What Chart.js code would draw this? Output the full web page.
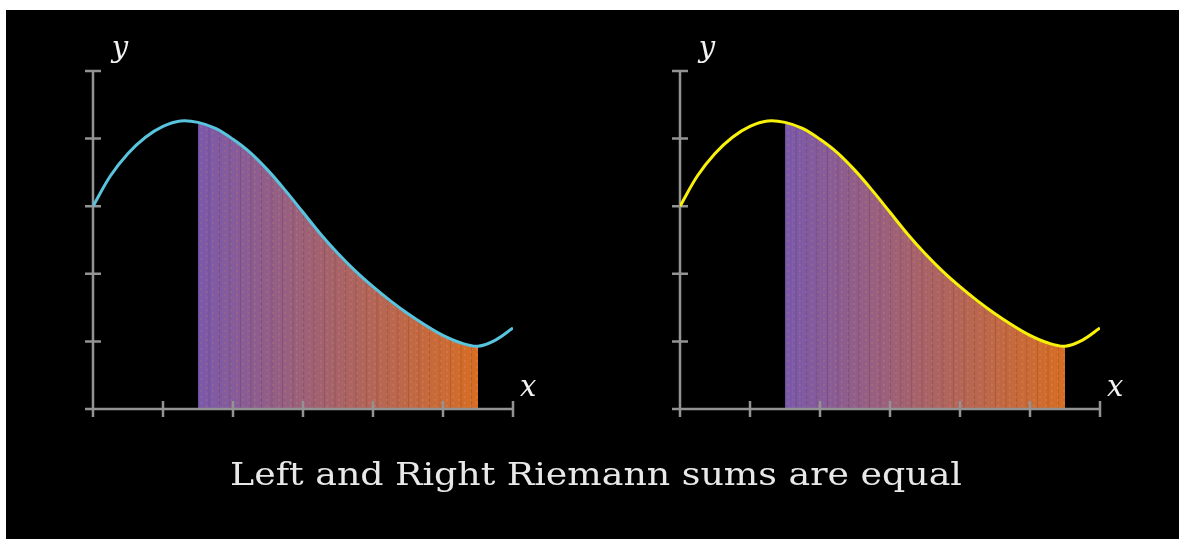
<!DOCTYPE html>
<html>
<head>
<meta charset="utf-8">
<script src="https://cdn.jsdelivr.net/npm/chart.js@4.4.1/dist/chart.umd.min.js"></script>
<style>
  html, body { margin: 0; padding: 0; background: #fff; width: 1179px; height: 539px; overflow: hidden; }
  #stage { position: absolute; left: 6px; top: 10px; right: 0; bottom: 0; background: #000; }
  canvas { position: absolute; top: 0; }
  #leftPlot { left: 0; }
  #rightPlot { left: 590px; }
  #caption {
    position: absolute; left: 0; top: 0; white-space: nowrap;
    color: #e8e8e8; font-family: 'DejaVu Serif', serif; font-size: 31px; line-height: 31px;
    transform-origin: 0 0;
  }
</style>
</head>
<body>
<div id="stage"></div>
<canvas id="leftPlot" width="590" height="539" style="width:590px;height:539px"></canvas>
<canvas id="rightPlot" width="589" height="539" style="width:589px;height:539px"></canvas>
<div id="caption"></div>
<script>
// Function sampled along x
const xValues = [0, 0.25, 0.5, 0.75, 1, 1.25, 1.5, 1.75, 2, 2.25, 2.5, 2.75, 3,
                 3.25, 3.5, 3.75, 4, 4.25, 4.5, 4.75, 5, 5.25, 5.5, 5.75, 6];
const yValues = [3.00, 3.45, 3.78, 4.02, 4.18, 4.26, 4.24, 4.15, 3.99, 3.79, 3.53, 3.23, 2.91,
                 2.59, 2.30, 2.04, 1.81, 1.60, 1.41, 1.24, 1.09, 0.98, 0.93, 1.02, 1.20];

// Interval whose area is shaded
const shadeStart = 1.5;
const shadeEnd = 5.5;

// Axis ranges and ticks
const xTicks = [0, 1, 2, 3, 4, 5, 6];
const yTicks = [0, 1, 2, 3, 4, 5];
const xAxisLabel = 'x';
const yAxisLabel = 'y';

const captionText = 'Left and Right Riemann sums are equal';

const curvePoints = xValues.map((x, i) => ({ x, y: yValues[i] }));

const AXIS_COLOR = '#939393';
const SHADE_LEFT = [121, 88, 172];
const SHADE_RIGHT = [214, 108, 34];
const CURVE_TENSION = 0.35;

function mix(a, b, t) {
  return a.map((v, i) => Math.round(v + (b[i] - v) * t));
}

// Fill texture: transparent outside [shadeStart, shadeEnd], inside a purple-to-orange
// gradient made of fine vertical strips, like many thin rectangles
function shadePattern(chart) {
  if (chart.$shadePattern) return chart.$shadePattern;
  const xs = chart.scales.x;
  const c = document.createElement('canvas');
  c.width = chart.width; c.height = chart.height;
  const g = c.getContext('2d');
  const xa = xs.getPixelForValue(shadeStart);
  const xb = xs.getPixelForValue(shadeEnd);
  const grad = g.createLinearGradient(xa, 0, xb, 0);
  grad.addColorStop(0, `rgb(${SHADE_LEFT.join(',')})`);
  grad.addColorStop(1, `rgb(${SHADE_RIGHT.join(',')})`);
  g.fillStyle = grad;
  g.fillRect(xa, 0, xb - xa, c.height);
  const strips = 80;
  const step = (xb - xa) / strips;
  for (let i = 0; i < strips; i++) {
    const px = xa + i * step;
    g.fillStyle = i % 3 === 0 ? 'rgba(0,0,0,0.10)' : 'rgba(255,255,255,0.03)';
    g.fillRect(px, 0, 1, c.height);
  }
  // soft dotted texture
  for (let px = xa + 2; px < xb - 1; px += 6) {
    const t = (px - xa) / (xb - xa);
    const dot = mix([205, 120, 80], [235, 150, 130], t);
    g.fillStyle = `rgba(${dot.join(',')},0.25)`;
    for (let py = (Math.round(px - xa) % 12 < 6 ? 0 : 3); py < c.height; py += 6) {
      g.fillRect(px, py, 2, 2);
    }
  }
  chart.$shadePattern = g.createPattern(c, 'no-repeat');
  return chart.$shadePattern;
}

// Axes go between the area fill and the curve stroke
const axesPlugin = {
  id: 'mathAxes',
  beforeDatasetDraw(chart, args) {
    if (args.index !== 0) return;
    const ctx = chart.ctx;
    const xs = chart.scales.x, ys = chart.scales.y;
    const x0 = xs.getPixelForValue(xTicks[0]);
    const x1 = xs.getPixelForValue(xTicks[xTicks.length - 1]);
    const y0 = ys.getPixelForValue(yTicks[0]);
    const y1 = ys.getPixelForValue(yTicks[yTicks.length - 1]);
    ctx.save();
    ctx.strokeStyle = AXIS_COLOR;
    ctx.lineWidth = 2.5;
    ctx.beginPath();
    ctx.moveTo(x0, y0); ctx.lineTo(x1, y0);
    ctx.moveTo(x0, y0); ctx.lineTo(x0, y1);
    xTicks.forEach(t => {
      const px = xs.getPixelForValue(t);
      ctx.moveTo(px, y0 - 8); ctx.lineTo(px, y0 + 8);
    });
    yTicks.forEach(t => {
      const py = ys.getPixelForValue(t);
      ctx.moveTo(x0 - 8, py); ctx.lineTo(x0 + 8, py);
    });
    ctx.stroke();
    ctx.restore();
  },
  afterDraw(chart) {
    const ctx = chart.ctx;
    const xs = chart.scales.x, ys = chart.scales.y;
    const x0 = xs.getPixelForValue(xTicks[0]);
    const x1 = xs.getPixelForValue(xTicks[xTicks.length - 1]);
    const y0 = ys.getPixelForValue(yTicks[0]);
    const y1 = ys.getPixelForValue(yTicks[yTicks.length - 1]);
    ctx.save();
    ctx.fillStyle = '#f2f2f2';
    ctx.font = 'italic 29px "DejaVu Serif", serif';
    ctx.textAlign = 'center';
    ctx.textBaseline = 'alphabetic';
    ctx.fillText(yAxisLabel, x0 + 27, y1 - 14);
    ctx.textAlign = 'left';
    ctx.fillText(xAxisLabel, x1 + 7, y0 - 13);
    ctx.restore();
  }
};

function buildPlot(id, lineColor, pad) {
  return new Chart(document.getElementById(id), {
    type: 'line',
    data: {
      datasets: [
        {
          data: curvePoints,
          borderColor: lineColor,
          borderWidth: 3,
          pointRadius: 0,
          fill: 'origin',
          tension: CURVE_TENSION,
          backgroundColor: (ctx) => ctx.chart.chartArea ? shadePattern(ctx.chart) : 'rgba(0,0,0,0)'
        }
      ]
    },
    options: {
      responsive: false,
      animation: false,
      devicePixelRatio: 1,
      layout: { padding: pad },
      plugins: { legend: { display: false }, tooltip: { enabled: false }, title: { display: false } },
      scales: {
        x: { type: 'linear', min: xTicks[0], max: xTicks[xTicks.length - 1], display: false },
        y: { type: 'linear', min: yTicks[0], max: yTicks[yTicks.length - 1], display: false }
      }
    },
    plugins: [axesPlugin]
  });
}

buildPlot('leftPlot', '#58C4DD', { left: 93, right: 77, top: 71, bottom: 130 });
buildPlot('rightPlot', '#F8F20A', { left: 90, right: 79, top: 71, bottom: 130 });

// Caption under both plots
const cap = document.getElementById('caption');
cap.textContent = captionText;
const w = cap.getBoundingClientRect().width;
const targetW = 732;
cap.style.transform = `scaleX(${targetW / w})`;
cap.style.left = '230px';
cap.style.top = '459px';
</script>
</body>
</html>
